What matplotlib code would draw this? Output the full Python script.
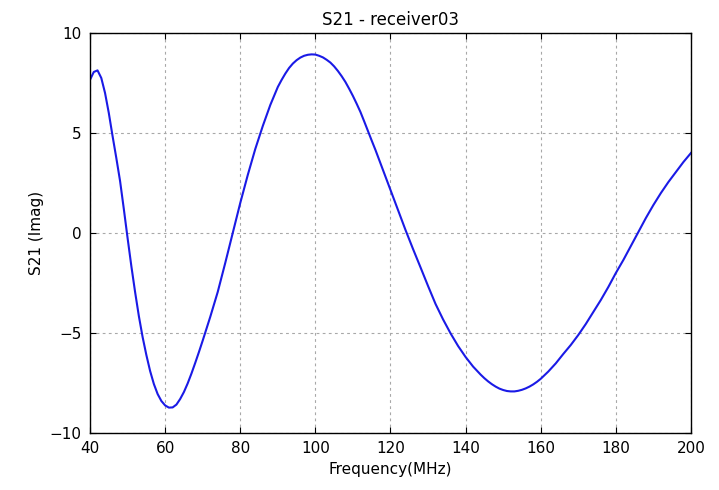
import matplotlib
matplotlib.use("Agg")
import matplotlib.pyplot as plt

freq = [40, 41, 42, 43, 44, 45, 46, 47, 48, 49, 50, 51, 52, 53, 54, 55, 56, 57, 58,
        59, 60, 61, 62, 63, 64, 65, 66, 67, 68, 69, 70, 72, 74, 76, 78, 80, 82, 84,
        86, 88, 89, 90, 91, 92, 93, 94, 95, 96, 97, 98, 99, 100, 101, 102, 103, 104,
        105, 106, 107, 108, 109, 110, 111, 112, 113, 114, 115, 116, 117, 118, 120,
        122, 124, 126, 128, 130, 132, 134, 136, 138, 140, 142, 144, 145, 146, 147,
        148, 149, 150, 151, 152, 153, 154, 155, 156, 157, 158, 159, 160, 162, 164,
        166, 168, 170, 172, 174, 176, 178, 180, 182, 184, 186, 188, 190, 192, 194,
        196, 198, 200]
s21_imag = [7.66, 8.05, 8.13, 7.75, 7.0, 6.0, 4.85, 3.75, 2.6, 1.2, -0.25, -1.65,
            -2.95, -4.15, -5.2, -6.1, -6.9, -7.55, -8.05, -8.4, -8.62, -8.73, -8.72,
            -8.58, -8.3, -7.95, -7.52, -7.03, -6.5, -5.95, -5.38, -4.2, -2.95, -1.5,
            0.0, 1.5, 2.9, 4.2, 5.35, 6.4, 6.85, 7.3, 7.65, 7.97, 8.25, 8.47, 8.64,
            8.77, 8.86, 8.91, 8.93, 8.92, 8.86, 8.78, 8.66, 8.52, 8.33, 8.1, 7.84, 7.55,
            7.21, 6.85, 6.46, 6.05, 5.58, 5.1, 4.62, 4.15, 3.65, 3.15, 2.15, 1.15, 0.15,
            -0.8, -1.72, -2.65, -3.55, -4.32, -5.02, -5.65, -6.2, -6.68, -7.08, -7.26,
            -7.42, -7.56, -7.68, -7.78, -7.85, -7.9, -7.92, -7.92, -7.89, -7.84, -7.77,
            -7.68, -7.57, -7.44, -7.29, -6.93, -6.52, -6.05, -5.6, -5.1, -4.55, -3.95,
            -3.35, -2.7, -2.0, -1.35, -0.65, 0.05, 0.75, 1.4, 2.0, 2.55, 3.05, 3.55,
            4.0]
x_ticks = [40, 60, 80, 100, 120, 140, 160, 180, 200]
y_ticks = [-10, -5, 0, 5, 10]

fig = plt.figure(figsize=(7.19, 4.9), dpi=100)
ax = fig.add_axes([0.1252, 0.1163, 0.8358, 0.8164])
ax.plot(freq, s21_imag, color='#1a1ae6', lw=1.5)
ax.set_xlim(40, 200)
ax.set_ylim(-10, 10)
ax.set_xticks(x_ticks)
ax.set_yticks(y_ticks)
ax.grid(True, color='#a8a8a8', linestyle=(0, (2.5, 3)), lw=0.8)
ax.tick_params(direction='in', length=4, top=True, right=True, labelsize=11, pad=6)
for s in ax.spines.values():
    s.set_linewidth(1.0)
ax.set_title("S21 - receiver03", fontsize=12)
ax.set_xlabel("Frequency(MHz)", fontsize=11)
ax.set_ylabel("S21 (Imag)", fontsize=11)
fig.savefig("out.png", dpi=100)
